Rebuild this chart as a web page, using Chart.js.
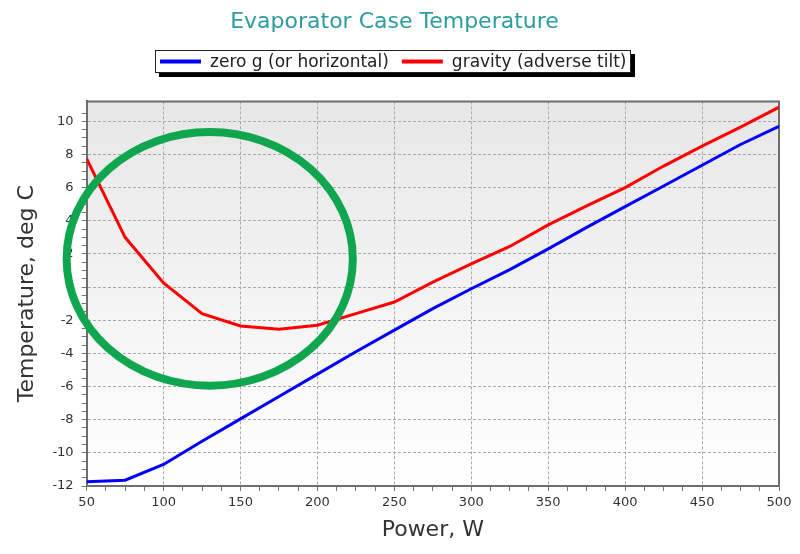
<!DOCTYPE html>
<html>
<head>
<meta charset="utf-8">
<title>Evaporator Case Temperature</title>
<script src="https://cdn.jsdelivr.net/npm/chart.js@4.4.1/dist/chart.umd.min.js"></script>
<style>
  body { margin: 0; background: #fff; }
</style>
</head>
<body>
<canvas id="chart" width="800" height="554"></canvas>
<script>
'use strict';
// values
const powerW = [50, 75, 100, 125, 150, 175, 200, 225, 250, 275, 300, 325, 350, 375, 400, 425, 450, 475, 500];
const zeroG = [-11.75, -11.65, -10.7, -9.3, -7.95, -6.6, -5.25, -3.9, -2.6, -1.3, -0.1, 1.05, 2.3, 3.6, 4.85, 6.1, 7.35, 8.6, 9.7];
const gravity = [7.75, 3.0, 0.25, -1.6, -2.35, -2.55, -2.3, -1.6, -0.9, 0.3, 1.4, 2.45, 3.75, 4.9, 6.0, 7.3, 8.5, 9.65, 10.85];
const seriesNames = ['zero g (or horizontal)', 'gravity (adverse tilt)'];
const xTickLabels = [50, 100, 150, 200, 250, 300, 350, 400, 450, 500];
const yTickLabels = [-12, -10, -8, -6, -4, -2, 0, 2, 4, 6, 8, 10];
// green ring drawn over the plot, in data units
const ringCenter = { power: 130, temp: 1.7 };
const ringRadius = { power: 93, temp: 7.65 };

const fontFamily = '"DejaVu Sans", Verdana, sans-serif';
const legendCenterX = 393;
const legendTop = 50;

function points(values) {
  return powerW.map((p, i) => ({ x: p, y: values[i] }));
}

function keepSteps(scale, step) {
  scale.ticks = scale.ticks.filter(t => Math.abs(t.value / step - Math.round(t.value / step)) < 1e-6);
}

let plotFrame = {
  id: 'plotFrame',
  beforeDraw(chart) {
    const { ctx, chartArea: a } = chart;
    const g = ctx.createLinearGradient(0, a.top, 0, a.bottom);
    g.addColorStop(0, '#e7e7e7');
    g.addColorStop(1, '#ffffff');
    ctx.save();
    ctx.fillStyle = g;
    ctx.fillRect(a.left, a.top, a.right - a.left, a.bottom - a.top);
    ctx.restore();
  },
  beforeDatasetsDraw(chart) {
    const { ctx, chartArea: a } = chart;
    ctx.save();
    ctx.strokeStyle = '#6e6e6e';
    ctx.lineWidth = 2;
    ctx.beginPath();
    ctx.moveTo(a.left, a.top);
    ctx.lineTo(a.right, a.top);
    ctx.lineTo(a.right, a.bottom);
    ctx.stroke();
    ctx.restore();
  }
};

let ring = {
  id: 'ring',
  afterDatasetsDraw(chart) {
    const { ctx, scales: { x, y } } = chart;
    const cx = x.getPixelForValue(ringCenter.power);
    const cy = y.getPixelForValue(ringCenter.temp);
    const rx = Math.abs(x.getPixelForValue(ringCenter.power + ringRadius.power) - cx);
    const ry = Math.abs(y.getPixelForValue(ringCenter.temp + ringRadius.temp) - cy);
    ctx.save();
    ctx.strokeStyle = '#10a650';
    ctx.lineWidth = 8;
    ctx.beginPath();
    ctx.ellipse(cx, cy, rx, ry, 0, 0, Math.PI * 2);
    ctx.stroke();
    ctx.restore();
  }
};

let boxLegend = {
  id: 'boxLegend',
  afterDraw(chart) {
    const ctx = chart.ctx;
    const sets = chart.data.datasets;
    const sample = 41;
    const h = 23;
    ctx.save();
    ctx.font = '17px ' + fontFamily;
    const widths = sets.map(d => ctx.measureText(d.label).width);
    let total = 5 + 5;
    sets.forEach((d, i) => { total += sample + 9 + widths[i]; });
    total += (sets.length - 1) * 13;
    total = Math.round(total);
    const left = Math.round(legendCenterX - total / 2);
    // shadow, box, border
    ctx.fillStyle = '#000';
    ctx.fillRect(left + 4, legendTop + 4, total, h);
    ctx.fillStyle = '#fff';
    ctx.fillRect(left, legendTop, total, h);
    ctx.strokeStyle = '#222';
    ctx.lineWidth = 1;
    ctx.strokeRect(left + 0.5, legendTop + 0.5, total - 1, h - 1);
    let x = left + 5;
    const midY = legendTop + h / 2;
    sets.forEach((d, i) => {
      ctx.strokeStyle = d.borderColor;
      ctx.lineWidth = 4;
      ctx.beginPath();
      ctx.moveTo(x, midY);
      ctx.lineTo(x + sample, midY);
      ctx.stroke();
      x += sample + 9;
      ctx.fillStyle = '#222';
      ctx.textBaseline = 'middle';
      ctx.fillText(d.label, x, midY + 1);
      x += widths[i] + 13;
    });
    ctx.restore();
  }
};

const chartObj = document.getElementById('chart').getContext('2d');
let chart = new Chart(chartObj, {
  type: 'line',
  data: {
    datasets: [{
      label: seriesNames[0],
      data: points(zeroG),
      borderColor: '#0000ff',
      backgroundColor: '#0000ff',
      borderWidth: 3,
      pointRadius: 0,
      tension: 0
    }, {
      label: seriesNames[1],
      data: points(gravity),
      borderColor: '#ff0000',
      backgroundColor: '#ff0000',
      borderWidth: 3,
      pointRadius: 0,
      tension: 0
    }]
  },
  options: {
    responsive: false,
    animation: false,
    layout: { padding: { left: 10, right: 21, top: 0, bottom: 7 } },
    plugins: {
      legend: { display: false },
      tooltip: { enabled: false },
      title: {
        display: true,
        text: 'Evaporator Case Temperature',
        color: '#2c9c9e',
        font: { family: fontFamily, size: 22, weight: 'normal' },
        padding: { top: 9, bottom: 66 }
      }
    },
    scales: {
      x: {
        type: 'linear',
        min: 50,
        max: 500,
        afterBuildTicks: s => keepSteps(s, 12.5),
        ticks: {
          stepSize: 12.5,
          autoSkip: false,
          maxRotation: 0,
          color: '#333',
          padding: 4,
          font: { family: fontFamily, size: 13 },
          callback: v => xTickLabels.includes(v) ? String(v) : ''
        },
        grid: {
          color: c => (c.tick && xTickLabels.includes(c.tick.value)) ? '#a9a9a9' : 'rgba(0,0,0,0)',
          tickColor: '#777',
          tickLength: 5,
          lineWidth: 1
        },
        border: { color: '#6e6e6e', width: 2, dash: [3, 2] },
        title: {
          display: true,
          text: 'Power, W',
          color: '#333',
          font: { family: fontFamily, size: 22 },
          padding: { top: 2, bottom: 4 }
        }
      },
      y: {
        min: -12,
        max: 11.2,
        afterBuildTicks: s => keepSteps(s, 0.5),
        ticks: {
          stepSize: 0.5,
          autoSkip: false,
          color: '#333',
          padding: 8,
          font: { family: fontFamily, size: 13 },
          callback: v => yTickLabels.includes(v) ? String(v) : ''
        },
        grid: {
          color: c => (c.tick && yTickLabels.includes(c.tick.value)) ? '#a9a9a9' : 'rgba(0,0,0,0)',
          tickColor: '#777',
          tickLength: 5,
          lineWidth: 1
        },
        border: { color: '#6e6e6e', width: 2, dash: [3, 2] },
        title: {
          display: true,
          text: 'Temperature, deg C',
          color: '#333',
          font: { family: fontFamily, size: 22 },
          padding: { top: 4, bottom: 4 }
        }
      }
    }
  },
  plugins: [plotFrame, ring, boxLegend]
});
</script>
</body>
</html>
